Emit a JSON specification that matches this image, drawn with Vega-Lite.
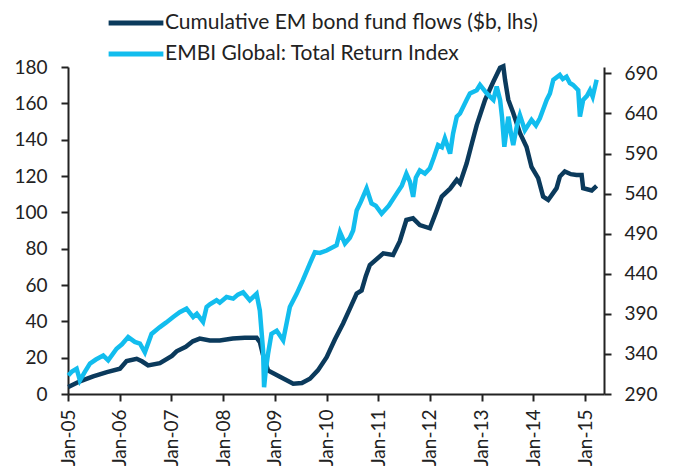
{
  "$schema": "https://vega.github.io/schema/vega-lite/v6.json",
  "width": 536,
  "height": 327,
  "autosize": {"type": "none"},
  "padding": {"left": 68, "top": 67, "right": 72, "bottom": 74},
  "config": {
    "view": {"stroke": null},
    "font": "Lato",
    "axis": {
      "grid": false,
      "title": null,
      "domainColor": "#222222",
      "domainWidth": 2,
      "tickColor": "#222222",
      "tickWidth": 2,
      "tickSize": 7,
      "labelFontSize": 19,
      "labelColor": "#222222",
      "labelFont": "Lato"
    },
    "legend": {
      "orient": "none",
      "legendX": 38,
      "title": null,
      "symbolType": "stroke",
      "symbolStrokeWidth": 5,
      "symbolSize": 3000,
      "labelFontSize": 21,
      "labelColor": "#222222",
      "labelFont": "Lato",
      "labelLimit": 600,
      "labelOffset": -1
    }
  },
  "datasets": {
    "flows": [
      {"date": "2005/01/03", "value": 3.8},
      {"date": "2005/03/26", "value": 7},
      {"date": "2005/06/28", "value": 9.7},
      {"date": "2005/10/03", "value": 12},
      {"date": "2006/01/03", "value": 13.9},
      {"date": "2006/02/19", "value": 18.1},
      {"date": "2006/05/01", "value": 19.4},
      {"date": "2006/06/07", "value": 18},
      {"date": "2006/07/21", "value": 15.7},
      {"date": "2006/10/12", "value": 17},
      {"date": "2007/01/05", "value": 21},
      {"date": "2007/02/07", "value": 23.5},
      {"date": "2007/04/13", "value": 26},
      {"date": "2007/06/02", "value": 29},
      {"date": "2007/07/21", "value": 30.5},
      {"date": "2007/09/30", "value": 29.5},
      {"date": "2007/12/09", "value": 29.5},
      {"date": "2008/03/10", "value": 30.5},
      {"date": "2008/06/03", "value": 31},
      {"date": "2008/08/25", "value": 31},
      {"date": "2008/09/17", "value": 28.6},
      {"date": "2008/10/08", "value": 22},
      {"date": "2008/11/14", "value": 13},
      {"date": "2009/02/06", "value": 9.5},
      {"date": "2009/05/11", "value": 5.6},
      {"date": "2009/07/11", "value": 6},
      {"date": "2009/09/06", "value": 8.4},
      {"date": "2009/11/01", "value": 13},
      {"date": "2010/01/02", "value": 20.3},
      {"date": "2010/03/01", "value": 30},
      {"date": "2010/04/28", "value": 38.8},
      {"date": "2010/06/15", "value": 47},
      {"date": "2010/08/02", "value": 55.3},
      {"date": "2010/09/06", "value": 57},
      {"date": "2010/10/06", "value": 65},
      {"date": "2010/11/03", "value": 71},
      {"date": "2011/02/06", "value": 77.4},
      {"date": "2011/04/16", "value": 76.5},
      {"date": "2011/06/02", "value": 84},
      {"date": "2011/07/19", "value": 95.8},
      {"date": "2011/09/04", "value": 96.7},
      {"date": "2011/10/22", "value": 93},
      {"date": "2012/01/01", "value": 91.2},
      {"date": "2012/02/13", "value": 100},
      {"date": "2012/03/25", "value": 108.7},
      {"date": "2012/05/23", "value": 113},
      {"date": "2012/07/09", "value": 117.9},
      {"date": "2012/08/01", "value": 116},
      {"date": "2012/09/17", "value": 127},
      {"date": "2012/10/24", "value": 138},
      {"date": "2012/11/27", "value": 148},
      {"date": "2013/01/25", "value": 162},
      {"date": "2013/03/25", "value": 172},
      {"date": "2013/05/11", "value": 179.6},
      {"date": "2013/06/03", "value": 180.4},
      {"date": "2013/06/15", "value": 173},
      {"date": "2013/07/08", "value": 162},
      {"date": "2013/08/12", "value": 154.7},
      {"date": "2013/09/28", "value": 143.7},
      {"date": "2013/11/14", "value": 136},
      {"date": "2013/12/19", "value": 125},
      {"date": "2014/02/04", "value": 118.8},
      {"date": "2014/03/11", "value": 108.7},
      {"date": "2014/04/16", "value": 106.8},
      {"date": "2014/06/14", "value": 113.3},
      {"date": "2014/07/07", "value": 119.7},
      {"date": "2014/08/11", "value": 122.5},
      {"date": "2014/09/23", "value": 121},
      {"date": "2014/11/02", "value": 120.6},
      {"date": "2014/12/08", "value": 120.6},
      {"date": "2014/12/19", "value": 113.3},
      {"date": "2015/02/17", "value": 112},
      {"date": "2015/03/24", "value": 114.6}
    ],
    "embi": [
      {"date": "2005/01/03", "value": 313},
      {"date": "2005/01/29", "value": 318},
      {"date": "2005/03/03", "value": 321.5},
      {"date": "2005/03/26", "value": 307},
      {"date": "2005/05/01", "value": 318},
      {"date": "2005/06/05", "value": 328},
      {"date": "2005/07/17", "value": 333},
      {"date": "2005/09/07", "value": 338},
      {"date": "2005/10/12", "value": 332},
      {"date": "2005/12/10", "value": 346.5},
      {"date": "2006/01/17", "value": 352},
      {"date": "2006/03/02", "value": 361},
      {"date": "2006/04/18", "value": 355},
      {"date": "2006/05/24", "value": 353},
      {"date": "2006/06/28", "value": 342},
      {"date": "2006/08/14", "value": 365},
      {"date": "2006/10/12", "value": 373.5},
      {"date": "2006/11/24", "value": 379},
      {"date": "2007/01/14", "value": 386},
      {"date": "2007/03/01", "value": 392},
      {"date": "2007/04/18", "value": 396.5},
      {"date": "2007/06/04", "value": 386},
      {"date": "2007/06/30", "value": 390},
      {"date": "2007/08/13", "value": 380},
      {"date": "2007/09/07", "value": 398.5},
      {"date": "2007/09/30", "value": 402},
      {"date": "2007/11/16", "value": 407},
      {"date": "2007/12/09", "value": 404},
      {"date": "2008/01/26", "value": 411},
      {"date": "2008/03/13", "value": 409},
      {"date": "2008/04/15", "value": 414},
      {"date": "2008/05/22", "value": 417},
      {"date": "2008/07/08", "value": 407},
      {"date": "2008/08/25", "value": 415},
      {"date": "2008/09/17", "value": 394},
      {"date": "2008/10/10", "value": 344},
      {"date": "2008/10/17", "value": 298.5},
      {"date": "2008/10/29", "value": 320},
      {"date": "2008/11/14", "value": 340},
      {"date": "2008/12/08", "value": 365},
      {"date": "2009/01/14", "value": 369},
      {"date": "2009/03/01", "value": 357},
      {"date": "2009/04/17", "value": 398.5},
      {"date": "2009/06/04", "value": 415},
      {"date": "2009/07/18", "value": 432},
      {"date": "2009/09/06", "value": 453},
      {"date": "2009/10/11", "value": 467},
      {"date": "2009/11/15", "value": 466},
      {"date": "2010/01/02", "value": 469},
      {"date": "2010/03/13", "value": 475.6},
      {"date": "2010/04/06", "value": 492},
      {"date": "2010/05/11", "value": 477.8},
      {"date": "2010/06/15", "value": 485},
      {"date": "2010/07/08", "value": 494},
      {"date": "2010/08/02", "value": 519},
      {"date": "2010/09/01", "value": 530},
      {"date": "2010/10/11", "value": 546.5},
      {"date": "2010/11/15", "value": 527.7},
      {"date": "2010/12/15", "value": 525},
      {"date": "2011/01/25", "value": 515},
      {"date": "2011/03/17", "value": 525},
      {"date": "2011/05/11", "value": 540},
      {"date": "2011/06/17", "value": 550},
      {"date": "2011/07/19", "value": 565},
      {"date": "2011/08/13", "value": 555},
      {"date": "2011/09/05", "value": 536},
      {"date": "2011/09/24", "value": 560},
      {"date": "2011/10/22", "value": 569},
      {"date": "2011/11/27", "value": 565},
      {"date": "2012/01/01", "value": 571.5},
      {"date": "2012/01/29", "value": 585},
      {"date": "2012/02/28", "value": 600.6},
      {"date": "2012/03/26", "value": 598},
      {"date": "2012/04/16", "value": 609},
      {"date": "2012/05/23", "value": 590},
      {"date": "2012/06/13", "value": 615},
      {"date": "2012/07/09", "value": 636},
      {"date": "2012/08/01", "value": 640},
      {"date": "2012/09/17", "value": 657},
      {"date": "2012/10/10", "value": 665},
      {"date": "2012/11/27", "value": 669},
      {"date": "2012/12/20", "value": 675.6},
      {"date": "2013/02/06", "value": 665},
      {"date": "2013/03/25", "value": 657},
      {"date": "2013/04/17", "value": 673.5},
      {"date": "2013/05/11", "value": 657},
      {"date": "2013/05/25", "value": 635},
      {"date": "2013/06/10", "value": 598.5},
      {"date": "2013/07/08", "value": 636},
      {"date": "2013/07/27", "value": 615},
      {"date": "2013/08/12", "value": 600.6},
      {"date": "2013/09/07", "value": 625},
      {"date": "2013/09/28", "value": 638},
      {"date": "2013/11/02", "value": 619},
      {"date": "2013/12/19", "value": 632},
      {"date": "2014/01/19", "value": 625},
      {"date": "2014/02/16", "value": 634},
      {"date": "2014/04/05", "value": 657},
      {"date": "2014/04/28", "value": 665},
      {"date": "2014/05/22", "value": 682},
      {"date": "2014/07/07", "value": 688},
      {"date": "2014/07/28", "value": 683},
      {"date": "2014/08/23", "value": 686},
      {"date": "2014/09/16", "value": 678},
      {"date": "2014/10/09", "value": 675.6},
      {"date": "2014/11/14", "value": 669},
      {"date": "2014/11/26", "value": 636},
      {"date": "2014/12/19", "value": 657},
      {"date": "2015/01/15", "value": 662},
      {"date": "2015/02/05", "value": 669},
      {"date": "2015/02/24", "value": 661},
      {"date": "2015/03/24", "value": 682}
    ]
  },
  "encoding": {
    "x": {
      "field": "date",
      "type": "temporal",
      "scale": {"domain": [{"year": 2005, "month": 1, "date": 1}, {"year": 2015, "month": 5, "date": 15}]},
      "axis": {
        "format": "%b-%y",
        "labelAngle": 270,
        "labelPadding": 8,
        "values": [
          {"year": 2005, "month": 1, "date": 1},
          {"year": 2006, "month": 1, "date": 1},
          {"year": 2007, "month": 1, "date": 1},
          {"year": 2008, "month": 1, "date": 1},
          {"year": 2009, "month": 1, "date": 1},
          {"year": 2010, "month": 1, "date": 1},
          {"year": 2011, "month": 1, "date": 1},
          {"year": 2012, "month": 1, "date": 1},
          {"year": 2013, "month": 1, "date": 1},
          {"year": 2014, "month": 1, "date": 1},
          {"year": 2015, "month": 1, "date": 1}
        ]
      }
    }
  },
  "layer": [
    {
      "data": {"name": "flows"},
      "mark": {"type": "line", "strokeWidth": 4.5, "clip": false},
      "encoding": {
        "y": {
          "field": "value",
          "type": "quantitative",
          "scale": {"domain": [0, 180], "nice": false, "zero": false},
          "axis": {"orient": "left", "values": [0, 20, 40, 60, 80, 100, 120, 140, 160, 180], "labelPadding": 14}
        },
        "color": {
          "datum": "Cumulative EM bond fund flows ($b, lhs)",
          "type": "nominal",
          "scale": {"domain": ["Cumulative EM bond fund flows ($b, lhs)"], "range": ["#0b3a5c"]},
          "legend": {"legendY": -74}
        }
      }
    },
    {
      "data": {"name": "embi"},
      "mark": {"type": "line", "strokeWidth": 4.5, "clip": false},
      "encoding": {
        "y": {
          "field": "value",
          "type": "quantitative",
          "scale": {"domain": [290, 698], "nice": false, "zero": false},
          "axis": {"orient": "right", "values": [290, 340, 390, 440, 490, 540, 590, 640, 690], "labelPadding": 13}
        },
        "color": {
          "datum": "EMBI Global: Total Return Index",
          "type": "nominal",
          "scale": {"domain": ["EMBI Global: Total Return Index"], "range": ["#12bdee"]},
          "legend": {"legendY": -43}
        }
      }
    }
  ],
  "resolve": {"scale": {"y": "independent", "color": "independent"}}
}
